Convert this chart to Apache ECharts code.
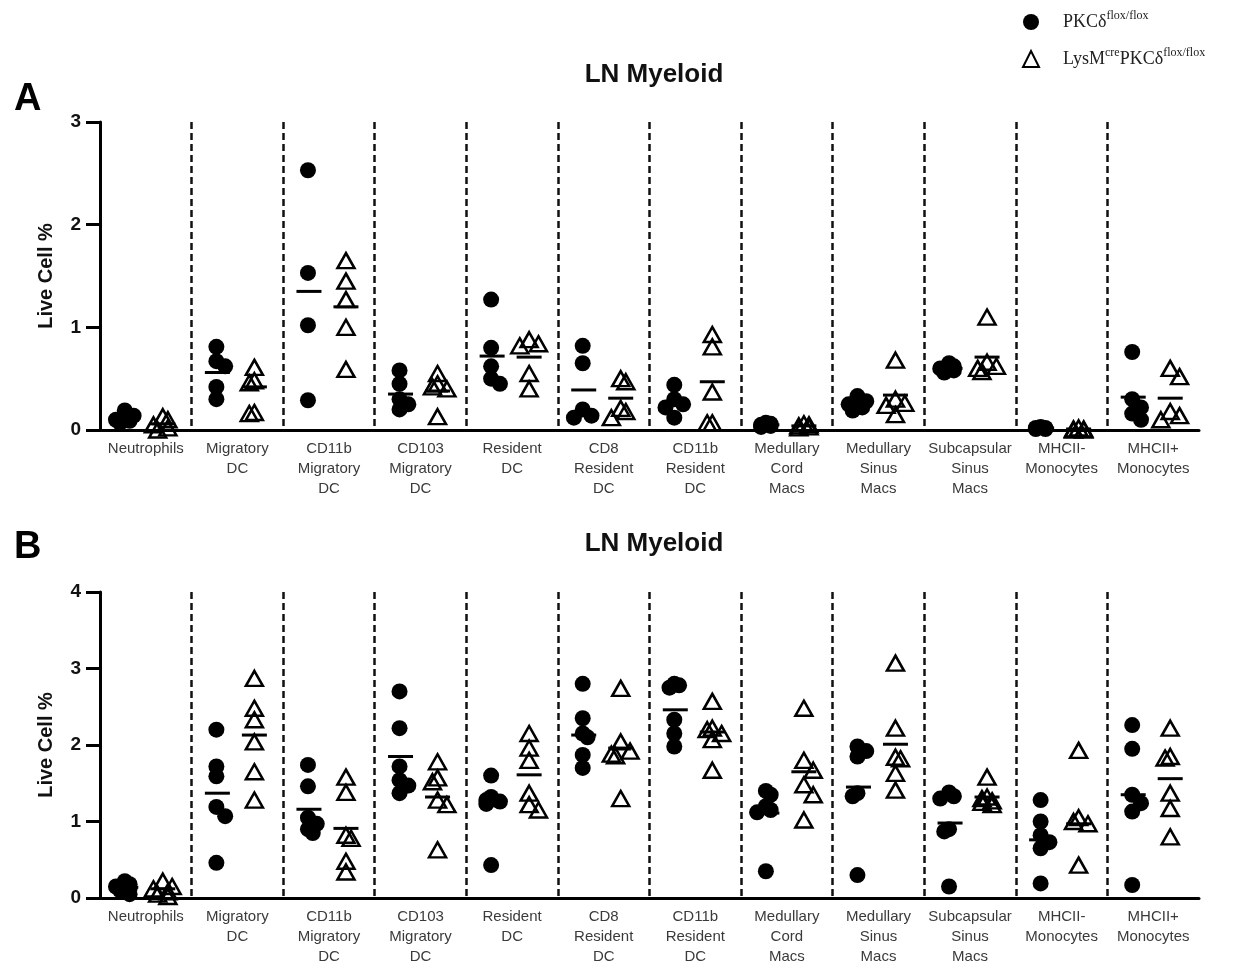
<!DOCTYPE html>
<html>
<head>
    <meta charset="utf-8">
    <title>LN Myeloid</title>
    <script src="https://cdn.jsdelivr.net/npm/echarts@6.0.0/dist/echarts.min.js"></script>
    <style>
        html, body { margin: 0; padding: 0; background: #fff; }
        #main { width: 1236px; height: 967px; }
    </style>
</head>
<body>
    <div id="main"></div>

    <script>
        const categories = [
            'Neutrophils', 'Migratory\nDC', 'CD11b\nMigratory\nDC', 'CD103\nMigratory\nDC',
            'Resident\nDC', 'CD8\nResident\nDC', 'CD11b\nResident\nDC', 'Medullary\nCord\nMacs',
            'Medullary\nSinus\nMacs', 'Subcapsular\nSinus\nMacs', 'MHCII-\nMonocytes', 'MHCII+\nMonocytes'
        ];

        // panel A - PKCδ flox/flox (circles)
        const ctrlA = [
            [0.19, 0.14, 0.10, 0.09, 0.07],
            [0.81, 0.67, 0.62, 0.42, 0.30],
            [2.53, 1.53, 1.02, 0.29],
            [0.58, 0.45, 0.30, 0.25, 0.20],
            [1.27, 0.80, 0.62, 0.50, 0.45],
            [0.82, 0.65, 0.20, 0.14, 0.12],
            [0.44, 0.30, 0.25, 0.22, 0.12],
            [0.07, 0.06, 0.05, 0.04, 0.03],
            [0.33, 0.28, 0.25, 0.22, 0.19],
            [0.65, 0.62, 0.60, 0.58, 0.56],
            [0.03, 0.02, 0.02, 0.01, 0.01],
            [0.76, 0.30, 0.22, 0.16, 0.10]
        ];
        // panel A - LysMcre PKCδ flox/flox (triangles)
        const koA = [
            [0.13, 0.10, 0.05, 0.02, 0.00],
            [0.61, 0.48, 0.46, 0.17, 0.16],
            [1.65, 1.45, 1.27, 1.00, 0.59],
            [0.55, 0.45, 0.42, 0.40, 0.13],
            [0.88, 0.84, 0.82, 0.55, 0.40],
            [0.50, 0.47, 0.21, 0.18, 0.12],
            [0.93, 0.81, 0.37, 0.07, 0.07],
            [0.06, 0.05, 0.04, 0.03, 0.02],
            [0.68, 0.30, 0.26, 0.24, 0.15],
            [1.10, 0.66, 0.62, 0.60, 0.57],
            [0.02, 0.01, 0.01, 0.00, 0.00],
            [0.60, 0.52, 0.18, 0.14, 0.10]
        ];
        const ctrlMeanA = [0.12, 0.56, 1.35, 0.35, 0.72, 0.39, 0.27, 0.05, 0.25, 0.60, 0.02, 0.32];
        const koMeanA = [0.06, 0.42, 1.20, 0.38, 0.71, 0.31, 0.47, 0.04, 0.34, 0.71, 0.01, 0.31];

        // panel B
        const ctrlB = [
            [0.22, 0.18, 0.15, 0.12, 0.10, 0.05],
            [2.20, 1.72, 1.59, 1.19, 1.07, 0.46],
            [1.74, 1.46, 1.05, 0.97, 0.90, 0.85],
            [2.70, 2.22, 1.72, 1.54, 1.47, 1.37],
            [1.60, 1.32, 1.28, 1.26, 1.23, 0.43],
            [2.80, 2.35, 2.15, 2.10, 1.87, 1.70],
            [2.80, 2.78, 2.75, 2.33, 2.15, 1.98],
            [1.40, 1.35, 1.20, 1.15, 1.12, 0.35],
            [1.98, 1.92, 1.85, 1.37, 1.33, 0.30],
            [1.38, 1.33, 1.30, 0.90, 0.87, 0.15],
            [1.28, 1.00, 0.82, 0.73, 0.65, 0.19],
            [2.26, 1.95, 1.35, 1.24, 1.13, 0.17]
        ];
        const koB = [
            [0.22, 0.15, 0.12, 0.08, 0.05, 0.02],
            [2.87, 2.48, 2.33, 2.04, 1.65, 1.28],
            [1.58, 1.38, 0.82, 0.78, 0.48, 0.34],
            [1.78, 1.57, 1.52, 1.28, 1.22, 0.63],
            [2.15, 1.96, 1.80, 1.37, 1.22, 1.15],
            [2.74, 2.04, 1.92, 1.88, 1.86, 1.30],
            [2.57, 2.22, 2.20, 2.15, 2.07, 1.67],
            [2.48, 1.80, 1.67, 1.48, 1.35, 1.02],
            [3.07, 2.22, 1.84, 1.82, 1.63, 1.41],
            [1.58, 1.32, 1.30, 1.27, 1.25, 1.22],
            [1.93, 1.05, 1.00, 0.97, 0.43],
            [2.22, 1.85, 1.83, 1.37, 1.17, 0.80]
        ];
        const ctrlMeanB = [0.14, 1.37, 1.16, 1.85, 1.21, 2.13, 2.46, 1.11, 1.45, 0.98, 0.76, 1.35];
        const koMeanB = [0.12, 2.13, 0.91, 1.32, 1.61, 1.96, 2.17, 1.65, 2.01, 1.32, 0.97, 1.56];

        const yMaxA = 3, yMaxB = 4;

        var chartDom = document.getElementById('main');
        var myChart = echarts.init(chartDom);

        const gridA = { left: 100, top: 122, width: 1099, height: 308 };
        const gridB = { left: 100, top: 592, width: 1099, height: 306 };

        const font = 'Liberation Sans, Arial, sans-serif';
        const serif = 'Liberation Serif, Times New Roman, serif';

        // small beeswarm: nudge overlapping points sideways, but keep them tight
        function swarm(vals, unitPx, base, size) {
            const placed = [];
            const order = vals.map((v, i) => i).sort((a, b) => vals[b] - vals[a]);
            const offs = new Array(vals.length).fill(base);
            order.forEach(i => {
                const y = vals[i] * unitPx;
                const steps = [0, 1, -1];
                for (let k of steps) {
                    const x = base + k * size * 0.55;
                    const hit = placed.some(p => Math.hypot(p[0] - x, p[1] - y) < size * 0.6);
                    if (!hit) {
                        offs[i] = x;
                        placed.push([x, y]);
                        return;
                    }
                }
                const alt = base + (placed.length % 2 ? 0.3 : -0.3) * size;
                offs[i] = alt;
                placed.push([alt, y]);
            });
            return offs;
        }

        function pointData(groups, unitPx, base, size) {
            const out = [];
            groups.forEach((vals, ci) => {
                const offs = swarm(vals, unitPx, base, size);
                vals.forEach((v, j) => {
                    out.push({ value: [ci, v], symbolOffset: [offs[j], 0] });
                });
            });
            return out;
        }

        function panelSeries(idx, ctrl, ko, ctrlMean, koMean, unitPx) {
            return [
                {
                    name: 'ctrl',
                    type: 'scatter',
                    xAxisIndex: idx, yAxisIndex: idx,
                    symbol: 'circle',
                    symbolSize: 16,
                    itemStyle: { color: '#000', opacity: 1 },
                    data: pointData(ctrl, unitPx, -21, 16),
                    z: 3
                },
                {
                    name: 'ko',
                    type: 'scatter',
                    xAxisIndex: idx, yAxisIndex: idx,
                    symbol: 'triangle',
                    symbolSize: [17, 15],
                    itemStyle: { color: 'rgba(255,255,255,0)', borderColor: '#000', borderWidth: 2.5, opacity: 1 },
                    data: pointData(ko, unitPx, 17, 17),
                    z: 3
                },
                {
                    name: 'ctrlMean',
                    type: 'scatter',
                    xAxisIndex: idx, yAxisIndex: idx,
                    symbol: 'rect',
                    symbolSize: [25, 3],
                    symbolOffset: [-20, 0],
                    itemStyle: { color: '#000', opacity: 1 },
                    data: ctrlMean.map((v, i) => [i, v]),
                    z: 4
                },
                {
                    name: 'koMean',
                    type: 'scatter',
                    xAxisIndex: idx, yAxisIndex: idx,
                    symbol: 'rect',
                    symbolSize: [25, 3],
                    symbolOffset: [17, 0],
                    itemStyle: { color: '#000', opacity: 1 },
                    data: koMean.map((v, i) => [i, v]),
                    z: 4
                }
            ];
        }

        function xAxis(gridIndex) {
            return {
                gridIndex: gridIndex,
                type: 'category',
                data: categories,
                boundaryGap: true,
                axisLine: { lineStyle: { color: '#000', width: 3 } },
                axisTick: { show: false },
                axisLabel: {
                    color: '#3a3a3a',
                    fontFamily: font,
                    fontSize: 15,
                    lineHeight: 20,
                    margin: 9,
                    interval: 0
                },
                splitLine: {
                    show: true,
                    showMinLine: false,
                    showMaxLine: false,
                    lineStyle: { color: '#111', width: 2.5, type: [7, 4] }
                }
            };
        }

        function yAxis(gridIndex, max) {
            return {
                gridIndex: gridIndex,
                type: 'value',
                min: 0,
                max: max,
                interval: 1,
                name: 'Live Cell %',
                nameLocation: 'middle',
                nameGap: 44,
                nameTextStyle: { fontFamily: font, fontSize: 20, fontWeight: 'bold', color: '#111' },
                axisLine: { show: true, lineStyle: { color: '#000', width: 3 } },
                axisTick: { show: true, length: 14, lineStyle: { color: '#000', width: 3 } },
                axisLabel: { fontFamily: font, fontSize: 19, fontWeight: 'bold', color: '#111', margin: 19 },
                splitLine: { show: false }
            };
        }

        const option = {
            animation: false,
            backgroundColor: '#fff',
            title: [
                {
                    text: 'LN Myeloid', left: 649, top: 57, textAlign: 'center',
                    textStyle: { fontFamily: font, fontSize: 26, fontWeight: 'bold', color: '#111' }
                },
                {
                    text: 'LN Myeloid', left: 649, top: 526, textAlign: 'center',
                    textStyle: { fontFamily: font, fontSize: 26, fontWeight: 'bold', color: '#111' }
                },
                {
                    text: 'A', left: 9, top: 76,
                    textStyle: { fontFamily: font, fontSize: 38, fontWeight: 'bold', color: '#000' }
                },
                {
                    text: 'B', left: 9, top: 524,
                    textStyle: { fontFamily: font, fontSize: 38, fontWeight: 'bold', color: '#000' }
                }
            ],
            legend: {
                orient: 'vertical',
                left: 1017,
                top: 5,
                itemWidth: 16,
                itemHeight: 16,
                itemGap: 16,
                selectedMode: false,
                data: [{ name: 'ctrl', icon: 'circle' }, { name: 'ko', icon: 'triangle' }],
                formatter: function (n) {
                    return n === 'ctrl'
                        ? '{t|PKCδ}{s|flox/flox}'
                        : '{t|LysM}{s|cre}{t|PKCδ}{s|flox/flox}';
                },
                textStyle: {
                    padding: [0, 0, 0, 19],
                    rich: {
                        t: { fontFamily: serif, fontSize: 18, color: '#222', lineHeight: 24 },
                        s: { fontFamily: serif, fontSize: 12, color: '#222', lineHeight: 12, verticalAlign: 'top' }
                    }
                }
            },
            grid: [gridA, gridB],
            xAxis: [xAxis(0), xAxis(1)],
            yAxis: [yAxis(0, yMaxA), yAxis(1, yMaxB)],
            series: [].concat(
                panelSeries(0, ctrlA, koA, ctrlMeanA, koMeanA, gridA.height / yMaxA),
                panelSeries(1, ctrlB, koB, ctrlMeanB, koMeanB, gridB.height / yMaxB)
            )
        };

        myChart.setOption(option);
        window.addEventListener('resize', function () {
            myChart.resize();
        });
    </script>
</body>
</html>
